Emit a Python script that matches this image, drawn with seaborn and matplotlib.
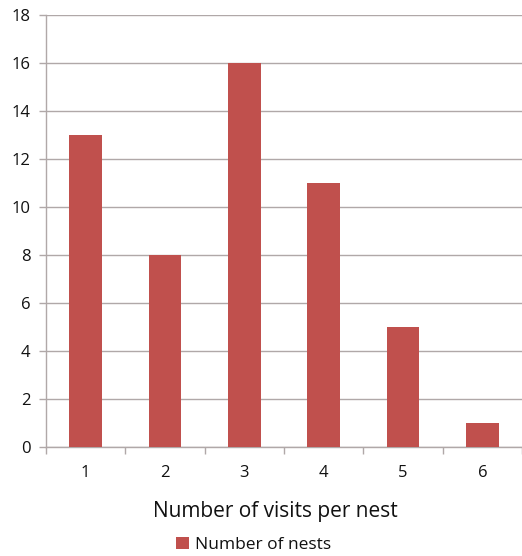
import matplotlib
matplotlib.use("Agg")
import matplotlib.pyplot as plt
from matplotlib.patches import Patch
from matplotlib.ticker import FixedLocator
import seaborn as sns
import pandas as pd

visits = ["1", "2", "3", "4", "5", "6"]
nests = [13, 8, 16, 11, 5, 1]
y_ticks = [0, 2, 4, 6, 8, 10, 12, 14, 16, 18]

bar_color = "#c0504d"
grid_color = "#b0a8a8"
text_color = "#111111"

sns.set_theme(style="white")
plt.rcParams["font.family"] = ["Open Sans", "DejaVu Sans"]

df = pd.DataFrame({"visits": visits, "nests": nests})

fig = plt.figure(figsize=(5.22, 5.56), dpi=100)
ax = fig.add_axes([0.088, 0.196, 0.912, 0.777])

sns.barplot(data=df, x="visits", y="nests", color=bar_color, width=0.41,
            saturation=1, linewidth=0, ax=ax, zorder=3)

ax.set_xlim(-0.5, len(visits) - 0.5)
ax.set_ylim(0, 18)
ax.set_yticks(y_ticks)
ax.yaxis.grid(True, color=grid_color, linewidth=1.0, zorder=0)
ax.set_axisbelow(True)

for s in ["top", "right"]:
    ax.spines[s].set_visible(False)
for s in ["left", "bottom"]:
    ax.spines[s].set_color(grid_color)
    ax.spines[s].set_linewidth(1.0)

ax.xaxis.set_minor_locator(FixedLocator([i + 0.5 for i in range(-1, len(visits))]))
ax.tick_params(axis="x", which="major", length=0, pad=13, labelsize=12, colors=text_color)
ax.tick_params(axis="x", which="minor", length=5, color=grid_color, width=1, bottom=True)
ax.tick_params(axis="y", which="major", length=5, color=grid_color, width=1, left=True,
               pad=6, labelsize=12, labelcolor=text_color)

ax.set_xlabel("Number of visits per nest", fontsize=15, color=text_color, labelpad=14)
ax.xaxis.label.set_x(0.482)
ax.set_ylabel("")

handle = Patch(facecolor=bar_color, edgecolor="none")
fig.legend([handle], ["Number of nests"], loc="center", bbox_to_anchor=(0.485, 0.02),
           frameon=False, fontsize=12.5, handlelength=0.75, handleheight=0.75,
           handletextpad=0.35, labelcolor=text_color)

fig.savefig("out.png", dpi=100)
